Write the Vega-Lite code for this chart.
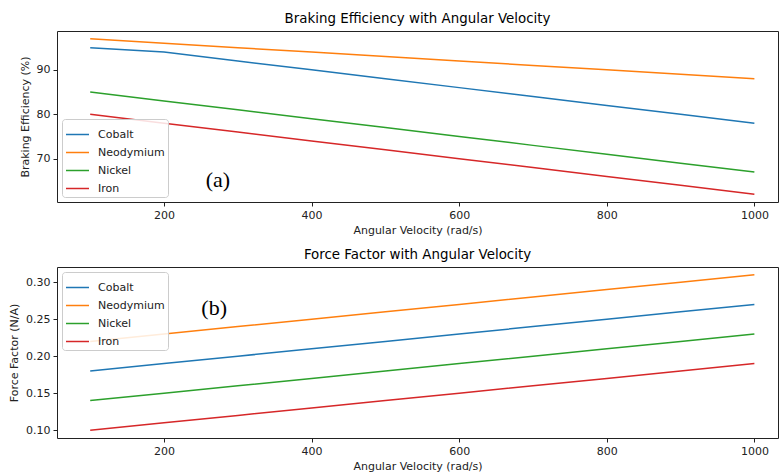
{
  "$schema": "https://vega.github.io/schema/vega-lite/v6.json",
  "padding": {"left": 8, "top": 11, "right": 0, "bottom": 0},
  "spacing": 11,
  "datasets": {
    "braking": [
      {"v": 100, "m": "Cobalt", "e": 95}, {"v": 200, "m": "Cobalt", "e": 94}, {"v": 300, "m": "Cobalt", "e": 92}, {"v": 400, "m": "Cobalt", "e": 90}, {"v": 500, "m": "Cobalt", "e": 88}, {"v": 600, "m": "Cobalt", "e": 86}, {"v": 700, "m": "Cobalt", "e": 84}, {"v": 800, "m": "Cobalt", "e": 82}, {"v": 900, "m": "Cobalt", "e": 80}, {"v": 1000, "m": "Cobalt", "e": 78},
      {"v": 100, "m": "Neodymium", "e": 97}, {"v": 200, "m": "Neodymium", "e": 96}, {"v": 300, "m": "Neodymium", "e": 95}, {"v": 400, "m": "Neodymium", "e": 94}, {"v": 500, "m": "Neodymium", "e": 93}, {"v": 600, "m": "Neodymium", "e": 92}, {"v": 700, "m": "Neodymium", "e": 91}, {"v": 800, "m": "Neodymium", "e": 90}, {"v": 900, "m": "Neodymium", "e": 89}, {"v": 1000, "m": "Neodymium", "e": 88},
      {"v": 100, "m": "Nickel", "e": 85}, {"v": 200, "m": "Nickel", "e": 83}, {"v": 300, "m": "Nickel", "e": 81}, {"v": 400, "m": "Nickel", "e": 79}, {"v": 500, "m": "Nickel", "e": 77}, {"v": 600, "m": "Nickel", "e": 75}, {"v": 700, "m": "Nickel", "e": 73}, {"v": 800, "m": "Nickel", "e": 71}, {"v": 900, "m": "Nickel", "e": 69}, {"v": 1000, "m": "Nickel", "e": 67},
      {"v": 100, "m": "Iron", "e": 80}, {"v": 200, "m": "Iron", "e": 78}, {"v": 300, "m": "Iron", "e": 76}, {"v": 400, "m": "Iron", "e": 74}, {"v": 500, "m": "Iron", "e": 72}, {"v": 600, "m": "Iron", "e": 70}, {"v": 700, "m": "Iron", "e": 68}, {"v": 800, "m": "Iron", "e": 66}, {"v": 900, "m": "Iron", "e": 64}, {"v": 1000, "m": "Iron", "e": 62}
    ],
    "force": [
      {"v": 100, "m": "Cobalt", "f": 0.18}, {"v": 200, "m": "Cobalt", "f": 0.19}, {"v": 300, "m": "Cobalt", "f": 0.20}, {"v": 400, "m": "Cobalt", "f": 0.21}, {"v": 500, "m": "Cobalt", "f": 0.22}, {"v": 600, "m": "Cobalt", "f": 0.23}, {"v": 700, "m": "Cobalt", "f": 0.24}, {"v": 800, "m": "Cobalt", "f": 0.25}, {"v": 900, "m": "Cobalt", "f": 0.26}, {"v": 1000, "m": "Cobalt", "f": 0.27},
      {"v": 100, "m": "Neodymium", "f": 0.22}, {"v": 200, "m": "Neodymium", "f": 0.23}, {"v": 300, "m": "Neodymium", "f": 0.24}, {"v": 400, "m": "Neodymium", "f": 0.25}, {"v": 500, "m": "Neodymium", "f": 0.26}, {"v": 600, "m": "Neodymium", "f": 0.27}, {"v": 700, "m": "Neodymium", "f": 0.28}, {"v": 800, "m": "Neodymium", "f": 0.29}, {"v": 900, "m": "Neodymium", "f": 0.30}, {"v": 1000, "m": "Neodymium", "f": 0.31},
      {"v": 100, "m": "Nickel", "f": 0.14}, {"v": 200, "m": "Nickel", "f": 0.15}, {"v": 300, "m": "Nickel", "f": 0.16}, {"v": 400, "m": "Nickel", "f": 0.17}, {"v": 500, "m": "Nickel", "f": 0.18}, {"v": 600, "m": "Nickel", "f": 0.19}, {"v": 700, "m": "Nickel", "f": 0.20}, {"v": 800, "m": "Nickel", "f": 0.21}, {"v": 900, "m": "Nickel", "f": 0.22}, {"v": 1000, "m": "Nickel", "f": 0.23},
      {"v": 100, "m": "Iron", "f": 0.10}, {"v": 200, "m": "Iron", "f": 0.11}, {"v": 300, "m": "Iron", "f": 0.12}, {"v": 400, "m": "Iron", "f": 0.13}, {"v": 500, "m": "Iron", "f": 0.14}, {"v": 600, "m": "Iron", "f": 0.15}, {"v": 700, "m": "Iron", "f": 0.16}, {"v": 800, "m": "Iron", "f": 0.17}, {"v": 900, "m": "Iron", "f": 0.18}, {"v": 1000, "m": "Iron", "f": 0.19}
    ]
  },
  "vconcat": [
    {
      "width": 721,
      "height": 171,
      "title": "Braking Efficiency with Angular Velocity",
      "layer": [
        {
          "data": {"name": "braking"},
          "mark": {"type": "line", "strokeWidth": 1.5, "clip": true},
          "encoding": {
            "x": {"field": "v", "type": "quantitative", "scale": {"domain": [55, 1032], "nice": false, "zero": false}, "axis": {"title": "Angular Velocity (rad/s)", "values": [200, 400, 600, 800, 1000], "format": "d"}},
            "y": {"field": "e", "type": "quantitative", "scale": {"domain": [60.25, 98.75], "nice": false, "zero": false}, "axis": {"title": "Braking Efficiency (%)", "values": [70, 80, 90]}},
            "color": {"field": "m", "type": "nominal", "scale": {"domain": ["Cobalt", "Neodymium", "Nickel", "Iron"], "range": ["#1f77b4", "#ff7f0e", "#2ca02c", "#d62728"]}, "legend": {"orient": "bottom-left", "title": null, "offset": 5}}
          }
        },
        {
          "data": {"values": [{}]},
          "mark": {"type": "text", "font": "Liberation Serif", "fontSize": 22, "baseline": "middle", "align": "center", "color": "black"},
          "encoding": {
            "x": {"datum": 273},
            "y": {"datum": 65.3},
            "text": {"value": "(a)"}
          }
        }
      ]
    },
    {
      "width": 721,
      "height": 171,
      "title": "Force Factor with Angular Velocity",
      "layer": [
        {
          "data": {"name": "force"},
          "mark": {"type": "line", "strokeWidth": 1.5, "clip": true},
          "encoding": {
            "x": {"field": "v", "type": "quantitative", "scale": {"domain": [55, 1032], "nice": false, "zero": false}, "axis": {"title": "Angular Velocity (rad/s)", "values": [200, 400, 600, 800, 1000], "format": "d"}},
            "y": {"field": "f", "type": "quantitative", "scale": {"domain": [0.0895, 0.3205], "nice": false, "zero": false}, "axis": {"title": "Force Factor (N/A)", "values": [0.10, 0.15, 0.20, 0.25, 0.30], "format": ".2f"}},
            "color": {"field": "m", "type": "nominal", "scale": {"domain": ["Cobalt", "Neodymium", "Nickel", "Iron"], "range": ["#1f77b4", "#ff7f0e", "#2ca02c", "#d62728"]}, "legend": {"orient": "top-left", "title": null, "offset": 5}}
          }
        },
        {
          "data": {"values": [{}]},
          "mark": {"type": "text", "font": "Liberation Serif", "fontSize": 22, "baseline": "middle", "align": "center", "color": "black"},
          "encoding": {
            "x": {"datum": 268},
            "y": {"datum": 0.265},
            "text": {"value": "(b)"}
          }
        }
      ]
    }
  ],
  "resolve": {"scale": {"color": "independent"}, "legend": {"color": "independent"}},
  "config": {
    "font": "DejaVu Sans",
    "view": {"stroke": "#222", "strokeWidth": 1},
    "title": {"font": "DejaVu Sans", "fontSize": 13.4, "fontWeight": "normal", "color": "black", "offset": 6},
    "axis": {
      "grid": false,
      "domain": false,
      "ticks": true,
      "tickColor": "#222",
      "tickSize": 4,
      "labelFont": "DejaVu Sans",
      "labelFontSize": 11,
      "labelColor": "#222",
      "titleFont": "DejaVu Sans",
      "titleFontSize": 11,
      "titleFontWeight": "normal",
      "titleColor": "#222",
      "labelPadding": 3
    },
    "axisX": {"titlePadding": 4},
    "axisY": {"titlePadding": 6},
    "legend": {
      "labelFont": "DejaVu Sans",
      "labelFontSize": 11,
      "labelColor": "#222",
      "labelOffset": 8,
      "symbolType": "stroke",
      "symbolSize": 529,
      "symbolStrokeWidth": 1.5,
      "rowPadding": -2,
      "fillColor": "rgba(255,255,255,0.85)",
      "strokeColor": "#ccc",
      "cornerRadius": 3,
      "padding": 3
    }
  }
}
